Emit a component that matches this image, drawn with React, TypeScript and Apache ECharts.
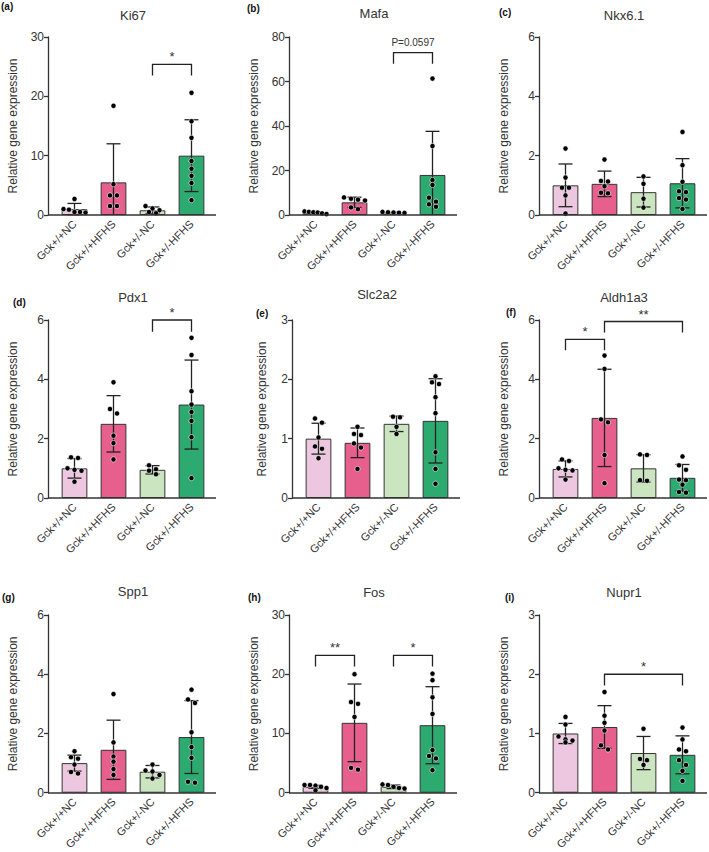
import React, { useEffect, useRef } from 'react';
import * as echarts from 'echarts';

const categories = ['Gck+/+NC', 'Gck+/+HFHS', 'Gck+/-NC', 'Gck+/-HFHS'];
const barColors = ['#EDC6DF', '#E7608D', '#CBE5C0', '#2DAA6F'];

// (a) Ki67
const ki67Mean = [1.0, 5.5, 0.8, 10.0];
const ki67Sd = [0.95, 6.5, 0.55, 6.05];
const ki67Points = [[2.7, 1.0, 0.9, 0.5, 0.5, 0.4], [18.4, 5.2, 3.3, 3.3, 1.5, 1.5], [1.5, 1.1, 0.8, 0.5, 0.3], [20.6, 15.8, 13.0, 9.1, 7.8, 6.6, 5.4, 2.5]];
const ki67Brackets = [[2, 25.4, 3, 23.5, 27.2]];
const ki67BracketLabels = ['*'];

// (b) Mafa
const mafaMean = [1.0, 5.7, 1.1, 18.0];
const mafaSd = [0.45, 2.3, 0.2, 19.6];
const mafaPoints = [[1.6, 1.4, 1.2, 1.1, 0.7, 0.4], [7.9, 7.3, 6.9, 6.5, 3.4, 2.6], [1.4, 1.2, 1.1, 1.0, 0.9], [61.3, 31.0, 15.7, 13.5, 7.8, 6.0, 4.8, 3.7]];
const mafaBrackets = [[2, 73, 3, 68, 77.5]];
const mafaBracketLabels = ['P=0.0597'];

// (c) Nkx6.1
const nkxMean = [1.0, 1.05, 0.77, 1.07];
const nkxSd = [0.72, 0.43, 0.5, 0.83];
const nkxPoints = [[2.24, 1.26, 0.92, 0.92, 0.66, 0.05], [1.87, 1.15, 1.13, 0.97, 0.75, 0.73], [1.3, 1.05, 0.55, 0.25], [2.8, 1.68, 1.12, 0.8, 0.77, 0.57, 0.52, 0.2]];

// (d) Pdx1
const pdxMean = [1.0, 2.5, 0.95, 3.15];
const pdxSd = [0.33, 0.95, 0.14, 1.5];
const pdxPoints = [[1.37, 1.35, 1.0, 0.95, 0.92, 0.55], [3.9, 3.0, 2.85, 2.1, 1.85, 1.3], [1.1, 0.97, 0.92, 0.8], [5.4, 4.82, 3.6, 3.15, 2.9, 2.6, 2.05, 0.67]];
const pdxBrackets = [[2, 6.0, 3, 5.6, 6.35]];
const pdxBracketLabels = ['*'];

// (e) Slc2a2
const slcMean = [1.0, 0.93, 1.25, 1.3];
const slcSd = [0.26, 0.25, 0.13, 0.71];
const slcPoints = [[1.34, 1.27, 1.02, 0.87, 0.83, 0.67], [1.2, 1.08, 1.06, 0.92, 0.85, 0.49], [1.37, 1.36, 1.2, 1.08], [2.05, 1.95, 1.92, 1.7, 1.43, 0.77, 0.49, 0.24]];

// (f) Aldh1a3
const aldhMean = [0.98, 2.7, 1.0, 0.68];
const aldhSd = [0.27, 1.64, 0.46, 0.45];
const aldhPoints = [[1.3, 1.25, 1.0, 0.95, 0.93, 0.62], [4.8, 4.35, 2.65, 2.55, 1.45, 0.5], [1.47, 1.45, 0.6, 0.58], [1.4, 1.1, 0.95, 0.62, 0.6, 0.45, 0.2, 0.18]];
const aldhBrackets = [[0, 5.35, 1, 4.98, 5.7], [1, 5.95, 3, 5.58, 6.3]];
const aldhBracketLabels = ['*', '**'];

// (g) Spp1
const sppMean = [1.0, 1.45, 0.71, 1.88];
const sppSd = [0.27, 1.0, 0.21, 1.23];
const sppPoints = [[1.4, 1.2, 1.15, 0.95, 0.7, 0.65], [3.33, 1.7, 1.22, 1.05, 0.8, 0.6], [0.95, 0.75, 0.72, 0.6, 0.48], [3.48, 3.15, 3.03, 2.04, 1.54, 1.18, 0.37, 0.34]];

// (h) Fos
const fosMean = [1.0, 11.8, 1.0, 11.4];
const fosSd = [0.25, 6.55, 0.3, 6.5];
const fosPoints = [[1.3, 1.3, 1.2, 1.0, 0.8, 0.4], [20.0, 15.3, 15.0, 12.8, 4.2, 3.9], [1.4, 1.3, 1.0, 0.8, 0.7], [20.1, 19.0, 16.1, 13.3, 7.2, 6.2, 5.8, 3.8]];
const fosBrackets = [[0, 23.2, 1, 21.3, 25.0], [2, 23.2, 3, 21.3, 25.0]];
const fosBracketLabels = ['**', '*'];

// (i) Nupr1
const nuprMean = [1.0, 1.11, 0.67, 0.64];
const nuprSd = [0.17, 0.36, 0.28, 0.32];
const nuprPoints = [[1.28, 1.15, 0.95, 0.9, 0.88, 0.85], [1.7, 1.3, 1.18, 1.05, 0.8, 0.73], [1.08, 0.57, 0.55, 0.47], [1.1, 0.9, 0.73, 0.7, 0.55, 0.47, 0.37, 0.2]];
const nuprBrackets = [[1, 2.0, 3, 1.81, 2.18]];
const nuprBracketLabels = ['*'];

const panelTitles = ['Ki67', 'Mafa', 'Nkx6.1', 'Pdx1', 'Slc2a2', 'Aldh1a3', 'Spp1', 'Fos', 'Nupr1'];
const panelLetters = ['(a)', '(b)', '(c)', '(d)', '(e)', '(f)', '(g)', '(h)', '(i)'];
const yMaxes = [30, 80, 6, 6, 3, 6, 6, 30, 3];
const yIntervals = [10, 20, 2, 2, 1, 2, 2, 10, 1];
const means = [ki67Mean, mafaMean, nkxMean, pdxMean, slcMean, aldhMean, sppMean, fosMean, nuprMean];
const sds = [ki67Sd, mafaSd, nkxSd, pdxSd, slcSd, aldhSd, sppSd, fosSd, nuprSd];
const pointSets = [ki67Points, mafaPoints, nkxPoints, pdxPoints, slcPoints, aldhPoints, sppPoints, fosPoints, nuprPoints];
const bracketSets = [ki67Brackets, mafaBrackets, [], pdxBrackets, [], aldhBrackets, [], fosBrackets, nuprBrackets];
const bracketLabelSets = [ki67BracketLabels, mafaBracketLabels, [], pdxBracketLabels, [], aldhBracketLabels, [], fosBracketLabels, nuprBracketLabels];

// layout
const axisXs = [48, 289, 539, 48, 292, 539, 48, 289, 539];
const rowTops = [37, 320, 615];
const plotH = 178;
const band = 39;
const axisShift = 7;
const nameGaps = [29, 29, 29, 29, 24, 29, 29, 29, 29];
const letterPos = [[1, 1], [247, 3], [499, 7], [13, 297], [256, 308], [506, 307], [2, 592], [248, 592], [505, 592]];
const titleYs = [15, 13, 15, 297, 294, 297, 591, 592, 592];
const FONT = "'Liberation Sans', Arial, sans-serif";
const INK = '#333333';

function buildOption() {
  const grid: any[] = [];
  const xAxis: any[] = [];
  const yAxis: any[] = [];
  const series: any[] = [];
  const graphic: any[] = [];

  for (let i = 0; i < 9; i++) {
    const row = Math.floor(i / 3);
    const top = rowTops[row];
    const gl = axisXs[i] + axisShift;
    const zeroY = top + plotH;
    grid.push({ left: gl, top, width: band * 4, height: plotH });
    xAxis.push({
      type: 'category', gridIndex: i, data: categories,
      axisLine: { show: false }, axisTick: { show: false },
      axisLabel: { rotate: 45, fontSize: 11, color: INK, margin: 7, interval: 0, fontFamily: FONT },
    });
    yAxis.push({
      type: 'value', gridIndex: i, min: 0, max: yMaxes[i], interval: yIntervals[i], offset: axisShift,
      splitLine: { show: false },
      axisLine: { show: true, lineStyle: { color: INK, width: 1.3 } },
      axisTick: { show: true, length: 4, lineStyle: { color: INK, width: 1.3 } },
      axisLabel: { fontSize: 12, color: INK, margin: 4, fontFamily: FONT },
      name: 'Relative gene expression', nameLocation: 'middle', nameGap: nameGaps[i],
      nameTextStyle: { fontSize: 12, color: INK, fontFamily: FONT },
    });

    const mean = means[i];
    const sd = sds[i];
    const pts = pointSets[i];
    const brs = bracketSets[i];
    const brl = bracketLabelSets[i];

    series.push({
      type: 'bar', xAxisIndex: i, yAxisIndex: i, barWidth: '66%',
      itemStyle: { borderColor: INK, borderWidth: 1 },
      data: mean.map((v, j) => ({ value: v, itemStyle: { color: barColors[j], borderColor: INK, borderWidth: 1 } })),
      z: 2,
    });

    series.push({
      type: 'custom', xAxisIndex: i, yAxisIndex: i, z: 3,
      data: mean.map((m, j) => [j, m, sd[j]]),
      renderItem: (params: any, api: any) => {
        const x = api.value(0);
        const m = api.value(1);
        const s = api.value(2);
        const hi = api.coord([x, m + s]);
        const lowV = m - s;
        const lo = api.coord([x, Math.max(lowV, 0)]);
        const cw = 7;
        const style = { stroke: '#222', lineWidth: 1.3 };
        const children: any[] = [
          { type: 'line', shape: { x1: hi[0], y1: hi[1], x2: lo[0], y2: lo[1] }, style },
          { type: 'line', shape: { x1: hi[0] - cw, y1: hi[1], x2: hi[0] + cw, y2: hi[1] }, style },
        ];
        if (lowV > 0) children.push({ type: 'line', shape: { x1: lo[0] - cw, y1: lo[1], x2: lo[0] + cw, y2: lo[1] }, style });
        return { type: 'group', children };
      },
    });

    series.push({
      type: 'custom', xAxisIndex: i, yAxisIndex: i, z: 4,
      data: pts.map((p, j) => [j, Math.max(...p)]),
      renderItem: (params: any, api: any) => {
        const j = api.value(0);
        const vals = pts[params.dataIndex];
        const cx = api.coord([j, 0])[0];
        const placed = vals.map((v) => ({ v, y: api.coord([j, v])[1], x: cx }));
        placed.sort((a, b) => a.y - b.y);
        const rows: any[][] = [];
        placed.forEach((p) => {
          const last = rows[rows.length - 1];
          if (last && p.y - last[0].y < 4.8) last.push(p);
          else rows.push([p]);
        });
        rows.forEach((r) => {
          const n = r.length;
          const step = n > 1 ? Math.min(7, 22 / (n - 1)) : 0;
          r.forEach((p, k) => { p.x = cx + (k - (n - 1) / 2) * step; });
        });
        return {
          type: 'group',
          children: placed.map((p) => ({
            type: 'circle', shape: { cx: p.x, cy: p.y, r: 2.6 },
            style: { fill: '#000', stroke: '#fff', lineWidth: 0.6 },
          })),
        };
      },
    });

    if (brs.length) {
      series.push({
        type: 'custom', xAxisIndex: i, yAxisIndex: i, z: 5, clip: false,
        data: brs,
        renderItem: (params: any, api: any) => {
          const x1 = api.value(0), yTop = api.value(1), x2 = api.value(2), yLeg = api.value(3), ly = api.value(4);
          const a = api.coord([x1, yLeg]);
          const b = api.coord([x1, yTop]);
          const c = api.coord([x2, yTop]);
          const d = api.coord([x2, yLeg]);
          const t = api.coord([x1, ly]);
          const label = brl[params.dataIndex];
          const isStar = label.indexOf('*') === 0;
          return {
            type: 'group',
            children: [
              { type: 'polyline', shape: { points: [a, b, c, d] }, style: { stroke: '#222', lineWidth: 1.3, fill: 'none' } },
              {
                type: 'text', x: (b[0] + c[0]) / 2, y: t[1] + (isStar ? 3 : 0),
                style: { text: label, fill: INK, fontSize: isStar ? 13 : 10, fontFamily: FONT, align: 'center', verticalAlign: 'middle', textAlign: 'center', textVerticalAlign: 'middle' },
              },
            ],
          };
        },
      });
    }

    graphic.push({
      type: 'line', z: 10,
      shape: { x1: axisXs[i], y1: zeroY, x2: gl + band * 4 + 5, y2: zeroY },
      style: { stroke: INK, lineWidth: 1.3 },
    });
    graphic.push({
      type: 'text', x: gl + band * 2, y: titleYs[i],
      style: { text: panelTitles[i], fill: INK, fontSize: 13, fontFamily: FONT, align: 'center', verticalAlign: 'middle', textAlign: 'center', textVerticalAlign: 'middle' },
    });
    graphic.push({
      type: 'text', x: letterPos[i][0], y: letterPos[i][1],
      style: { text: panelLetters[i], fill: '#111', fontSize: 10, fontWeight: 'bold', fontFamily: FONT, align: 'left', verticalAlign: 'top', textAlign: 'left', textVerticalAlign: 'top' },
    });
  }

  return {
    animation: false,
    backgroundColor: '#ffffff',
    textStyle: { fontFamily: FONT },
    grid, xAxis, yAxis, series, graphic,
  };
}

export default function App() {
  const ref = useRef<HTMLDivElement>(null);
  useEffect(() => {
    document.body.style.margin = '0';
    if (!ref.current) return;
    const chart = echarts.init(ref.current, null, { renderer: 'svg' });
    chart.setOption(buildOption() as any);
    return () => chart.dispose();
  }, []);
  return <div ref={ref} style={{ width: 709, height: 852 }} />;
}
